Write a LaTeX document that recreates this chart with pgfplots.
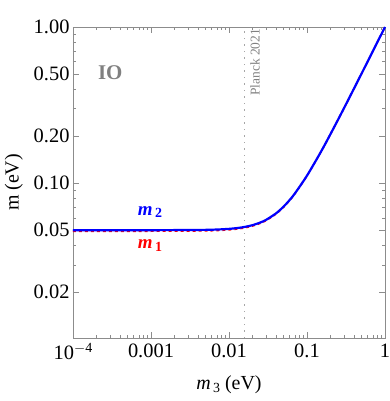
\documentclass[border=0pt]{standalone}
\usepackage{fontspec}
\setmainfont{Liberation Serif}
\usepackage{pgfplots}
\pgfplotsset{compat=1.18}
\definecolor{framegray}{gray}{0.55}
\definecolor{plblue}{RGB}{0,0,255}
\definecolor{plred}{RGB}{255,0,0}
\begin{document}
\begin{tikzpicture}
\useasboundingbox (-73bp,-63bp) rectangle (317bp,338bp);
\begin{axis}[
  scale only axis,
  width=312bp, height=311bp,
  xmode=log, ymode=log,
  xmin=1e-4, xmax=1, ymin=0.0102, ymax=1,
  /pgf/number format/assume math mode=true,
  axis line style={framegray, line width=0.6bp},
  tick style={framegray, line width=0.5bp},
  tick align=inside,
  major tick length=6bp, minor tick length=3.5bp,
  xtick={1e-4,1e-3,1e-2,1e-1,1},
  xticklabels={10\raisebox{0.75ex}{\fontsize{14}{16}\selectfont $-$4},0.001,0.01,0.1,1},
  minor xtick={2e-4,3e-4,4e-4,5e-4,6e-4,7e-4,8e-4,9e-4,
    2e-3,3e-3,4e-3,5e-3,6e-3,7e-3,8e-3,9e-3,
    2e-2,3e-2,4e-2,5e-2,6e-2,7e-2,8e-2,9e-2,
    0.2,0.3,0.4,0.5,0.6,0.7,0.8,0.9},
  ytick={0.02,0.05,0.1,0.2,0.5,1},
  yticklabels={0.02,0.05,0.10,0.20,0.50,1.00},
  minor ytick={0.03,0.04,0.06,0.07,0.08,0.09,0.3,0.4,0.6,0.7,0.8,0.9},
  ticklabel style={font=\fontsize{20.5}{22}\selectfont, text=black},
  xticklabel style={yshift=-2bp},
  xlabel={\fontsize{20}{22}\selectfont \textit{m}\raisebox{-0.3ex}{\fontsize{14}{16}\selectfont\,3} (eV)},
  every axis x label/.style={at={(axis description cs:0.5,-0.15)}, anchor=center},
  clip=false,
]
\addplot[black!35, line width=1.3bp, dash pattern=on 1.3bp off 5.2bp] coordinates {(0.0159,0.0102) (0.0159,1)};
\addplot[plred, dashed, line width=1.6bp, smooth] coordinates {
(1e-4,0.04925) (1e-3,0.04926) (0.005,0.04951) (0.01,0.05026) (0.015,0.05149)
(0.02,0.05316) (0.025,0.05524) (0.03,0.05767) (0.04,0.06345) (0.05,0.07019)
(0.06,0.07763) (0.07,0.08559) (0.1,0.11147) (0.15,0.15788) (0.2,0.20598)
(0.3,0.30402) (0.5,0.50242) (0.7,0.70173) (1,1.0)};
\addplot[plblue, line width=2.2bp, smooth] coordinates {
(1e-4,0.0500) (1e-3,0.05001) (0.005,0.05025) (0.01,0.05099) (0.015,0.05220)
(0.02,0.05385) (0.025,0.0559) (0.03,0.05831) (0.04,0.06403) (0.05,0.07071)
(0.06,0.0781) (0.07,0.08602) (0.1,0.1118) (0.15,0.1581) (0.2,0.2062)
(0.3,0.3041) (0.5,0.5025) (0.7,0.7018) (1,1.0)};
\node[rotate=90, font=\fontsize{20}{22}\selectfont] at (rel axis cs:-0.19,0.5) {m (eV)};
\node[text=gray, font=\fontsize{21}{23}\selectfont\bfseries] at (axis cs:3.0e-4,0.51) {IO};
\node[text=gray, font=\fontsize{13.5}{15}\selectfont, rotate=90, anchor=east, inner sep=0pt] at (axis cs:0.0216,0.975) {Planck 2021};
\node[text=plblue, font=\fontsize{19}{21}\selectfont\bfseries] at (axis cs:0.00097,0.0655) {\textit{m}\raisebox{-0.3ex}{\fontsize{14}{16}\selectfont\,2}};
\node[text=plred, font=\fontsize{19}{21}\selectfont\bfseries] at (axis cs:0.00097,0.0400) {\textit{m}\raisebox{-0.3ex}{\fontsize{14}{16}\selectfont\,1}};
\end{axis}
\end{tikzpicture}
\end{document}
